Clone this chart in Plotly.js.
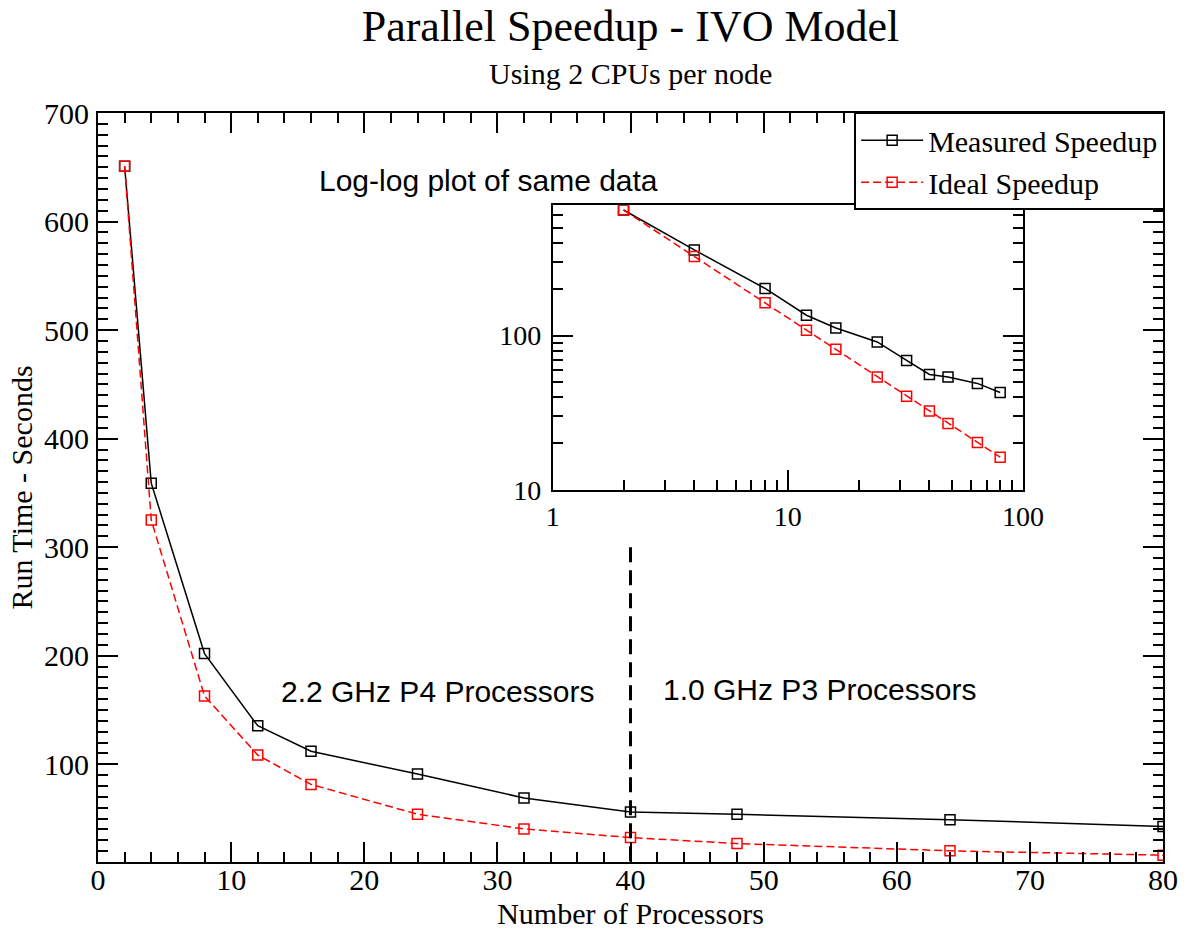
<!DOCTYPE html>
<html>
<head>
<meta charset="utf-8">
<script src="https://cdn.plot.ly/plotly-3.0.1.min.js"></script>
<style>html,body{margin:0;padding:0;background:#fff;}#chart{width:1190px;height:930px;}</style>
</head>
<body>
<div id="chart"></div>
<script>
// Data
const processors = [2, 4, 8, 12, 16, 24, 32, 40, 48, 64, 80];
const measuredSeconds = [651, 359, 202, 135.5, 112, 91, 69, 56, 54, 49, 42.8];
const idealSeconds = [651, 325, 163, 108.5, 81.5, 54, 40.5, 32.5, 27, 20.3, 16.3];
const seriesNames = ["Measured Speedup", "Ideal Speedup"];
const xTickVals = [0, 10, 20, 30, 40, 50, 60, 70, 80];
const yTickVals = [100, 200, 300, 400, 500, 600, 700];

const SERIF = "Liberation Serif, Times New Roman, serif";
const SANS = "Liberation Sans, Arial, sans-serif";
const FS = 30;

const measuredStyle = {
  mode: "lines+markers",
  line: {color: "#000000", width: 1.5},
  marker: {symbol: "square-open", size: 10, color: "#000000", line: {width: 1.5, color: "#000000"}}
};
const idealStyle = {
  mode: "lines+markers",
  line: {color: "#ff0000", width: 1.5, dash: "8px,4px"},
  marker: {symbol: "square-open", size: 10, color: "#ff0000", line: {width: 1.5, color: "#ff0000"}}
};

const traces = [
  Object.assign({x: processors, y: measuredSeconds, name: seriesNames[0], xaxis: "x", yaxis: "y", showlegend: true}, measuredStyle),
  Object.assign({x: processors, y: idealSeconds, name: seriesNames[1], xaxis: "x", yaxis: "y", showlegend: true}, idealStyle),
  Object.assign({x: processors, y: measuredSeconds, name: seriesNames[0], xaxis: "x2", yaxis: "y2", showlegend: false}, measuredStyle),
  Object.assign({x: processors, y: idealSeconds, name: seriesNames[1], xaxis: "x2", yaxis: "y2", showlegend: false}, idealStyle)
];

const axisCommon = {
  showline: true, linewidth: 2, linecolor: "#000",
  showgrid: false, zeroline: false,
  ticks: "inside", ticklen: 20, tickwidth: 2, tickcolor: "#000",
  tickfont: {family: SERIF, size: FS, color: "#000"}
};

const layout = {
  width: 1190, height: 930,
  paper_bgcolor: "#fff", plot_bgcolor: "#fff",
  margin: {l: 98, r: 27, t: 113, b: 68},
  font: {family: SERIF, color: "#000"},
  title: {text: "Parallel Speedup - IVO Model", font: {family: SERIF, size: 44, color: "#000"},
          x: 0.5, xref: "paper", y: 1 - 26/930, yref: "container", yanchor: "middle"},
  xaxis: Object.assign({}, axisCommon, {
    domain: [0, 1], anchor: "y", range: [0, 80], tickmode: "array", tickvals: xTickVals,
    mirror: "ticks", ticklabelstandoff: -10,
    minor: {dtick: 2, tick0: 0, ticks: "inside", ticklen: 10, tickwidth: 2, tickcolor: "#000"},
    title: {text: "Number of Processors", font: {family: SERIF, size: FS, color: "#000"}, standoff: 22}
  }),
  yaxis: Object.assign({}, axisCommon, {
    domain: [0, 1], anchor: "x", range: [10, 700], tickmode: "array", tickvals: yTickVals,
    mirror: "ticks", ticklabelstandoff: 1,
    minor: {dtick: 10, tick0: 0, ticks: "inside", ticklen: 10, tickwidth: 2, tickcolor: "#000"},
    title: {text: "Run Time - Seconds", font: {family: SERIF, size: FS, color: "#000"}, standoff: 3}
  }),
  xaxis2: Object.assign({}, axisCommon, {
    type: "log", domain: [0.427, 0.8685], anchor: "y2", range: [0, 2], dtick: 1,
    mirror: true, ticklabelstandoff: 0, tickfont: {family: SERIF, size: 28, color: "#000"},
    minor: {dtick: "D1", ticks: "inside", ticklen: 10, tickwidth: 2, tickcolor: "#000"}
  }),
  yaxis2: Object.assign({}, axisCommon, {
    type: "log", domain: [0.4967, 0.877], anchor: "x2", range: [1, Math.log10(700)], dtick: 1,
    mirror: "ticks", ticklabelstandoff: 4, tickfont: {family: SERIF, size: 28, color: "#000"},
    minor: {dtick: "D1", ticks: "inside", ticklen: 10, tickwidth: 2, tickcolor: "#000"}
  }),
  legend: {
    x: 1.002, xanchor: "right", y: 1.001, yanchor: "top",
    bgcolor: "#fff", bordercolor: "#000", borderwidth: 2,
    font: {family: SERIF, size: FS, color: "#000"},
    itemwidth: 62, tracegroupgap: 0
  },
  shapes: [
    {type: "line", xref: "x", yref: "y", x0: 40, x1: 40, y0: 300, y1: 10,
     line: {color: "#000", width: 3, dash: "15px,8px"}}
  ],
  annotations: [
    {text: "Using 2 CPUs per node", xref: "paper", yref: "paper", x: 0.5, y: (862-73)/749,
     xanchor: "center", yanchor: "middle", showarrow: false, font: {family: SERIF, size: FS, color: "#000"}},
    {text: "Log-log plot of same data", xref: "x", yref: "y", x: 29.3, y: 638,
     xanchor: "center", yanchor: "middle", showarrow: false, font: {family: SANS, size: FS, color: "#000"}},
    {text: "2.2 GHz P4 Processors", xref: "x", yref: "y", x: 25.5, y: 167,
     xanchor: "center", yanchor: "middle", showarrow: false, font: {family: SANS, size: FS, color: "#000"}},
    {text: "1.0 GHz P3 Processors", xref: "x", yref: "y", x: 54.2, y: 169,
     xanchor: "center", yanchor: "middle", showarrow: false, font: {family: SANS, size: FS, color: "#000"}}
  ]
};

Plotly.newPlot("chart", traces, layout, {displayModeBar: false, staticPlot: true});
</script>
</body>
</html>
